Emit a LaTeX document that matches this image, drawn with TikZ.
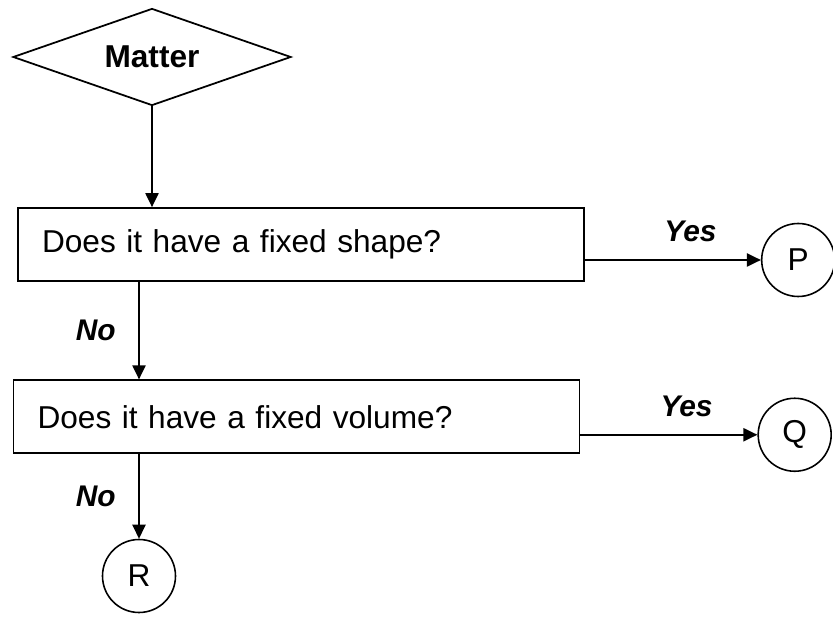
\documentclass[tikz,border=0pt]{standalone}
\usepackage{fontspec}
\setmainfont{Liberation Sans}
\usetikzlibrary{arrows.meta, positioning, shapes.geometric}

\begin{document}
\begin{tikzpicture}[
        node distance=2cm,
        font=\fontsize{18}{22}\selectfont,
        decision/.style={diamond, aspect=3, draw, line width=1pt, minimum width=5.56cm, minimum height=1.94cm, inner sep=0pt, font=\fontsize{18}{22}\selectfont\bfseries},
        question/.style={rectangle, draw, line width=1pt, text width=10.36cm, inner xsep=0.48cm, minimum height=1.46cm, align=left},
        result/.style={circle, draw, line width=0.9pt, minimum size=1.46cm, inner sep=0pt},
        answer/.style={inner sep=2pt, font=\fontsize{17}{20}\selectfont\bfseries\itshape},
        arrow/.style={-{Triangle[length=8pt, width=7.5pt]}, line width=1pt}
    ]
    \useasboundingbox (0,0) rectangle (16.66,12.38);

    % Nodes
    \node [decision] (matter) at (3.04,11.24) {Matter};
    \node [question] (shape) at (6.02,7.49) {Does it have a fixed shape?};
    \node [question] (volume) [below=1.95cm of shape, xshift=-0.09cm] {Does it have a fixed volume?};
    \node [result] (P) [right=3.52cm of shape, yshift=-0.31cm] {P};
    \node [result] (Q) [right=3.54cm of volume, yshift=-0.36cm] {Q};
    \node [result] (R) at (2.78,0.86) {R};

    % Arrows for the answers
    \draw[arrow] (matter.south) -- (matter.south |- shape.north);
    \draw[arrow] (shape.south -| R) -- node[answer, left=0.38cm] {No} (volume.north -| R);
    \draw[arrow] (volume.south -| R) -- node[answer, left=0.38cm] {No} (R);
    \draw[arrow] (shape.east |- P) -- node[answer, above=0.27cm, pos=0.6] {Yes} (P);
    \draw[arrow] (volume.east |- Q) -- node[answer, above=0.27cm, pos=0.6] {Yes} (Q);

\end{tikzpicture}
\end{document}
